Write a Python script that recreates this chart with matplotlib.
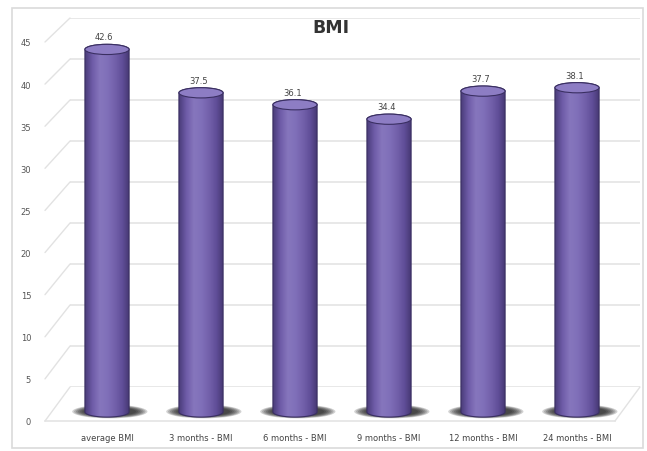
import numpy as np
import matplotlib
matplotlib.use("Agg")
import matplotlib.pyplot as plt
from matplotlib.patches import Ellipse, PathPatch, Rectangle, ConnectionPatch
from matplotlib.path import Path
from matplotlib.colors import LinearSegmentedColormap

categories = ["average BMI", "3 months - BMI", "6 months - BMI",
              "9 months - BMI", "12 months - BMI", "24 months - BMI"]
values = [42.6, 37.5, 36.1, 34.4, 37.7, 38.1]
value_labels = ["42.6", "37.5", "36.1", "34.4", "37.7", "38.1"]
y_ticks = [0, 5, 10, 15, 20, 25, 30, 35, 40, 45]
title = "BMI"

W, H = 647, 452
fig = plt.figure(figsize=(W / 100, H / 100), dpi=100)
fig.patch.set_facecolor("white")


def ax_at(x0, y0, x1, y1, **kw):
    return fig.add_axes([x0 / W, 1 - y1 / H, (x1 - x0) / W, (y1 - y0) / H], **kw)


# frame
bg = ax_at(0, 0, W, H)
bg.set_xlim(0, W)
bg.set_ylim(H, 0)
bg.axis("off")
bg.add_patch(Rectangle((12, 9), 631, 440, fill=False, edgecolor="#dadada", lw=1.2))

grid_c = "#e2e2e2"
# back wall
ax_back = ax_at(70, 19, 640, 388)
ax_back.set_xlim(0, 1)
ax_back.set_ylim(0, 45)
ax_back.axis("off")
for t in y_ticks:
    ax_back.axhline(t, color=grid_c, lw=1.1)

# front axis with tick labels
ax_front = ax_at(45, 43, 615, 422)
ax_front.set_xlim(0, 1)
ax_front.set_ylim(0, 45)
ax_front.patch.set_alpha(0)
for s in ax_front.spines.values():
    s.set_visible(False)
ax_front.set_xticks([])
ax_front.set_yticks(y_ticks)
ax_front.set_yticklabels([str(t) for t in y_ticks], fontsize=6, color="#555555")
ax_front.tick_params(axis="y", length=0, pad=10)
ax_front.plot([0, 1], [0, 0], color=grid_c, lw=1.1, clip_on=False)
for t in y_ticks:
    fig.add_artist(ConnectionPatch((0, t), (0, t), "data", "data",
                                   axesA=ax_front, axesB=ax_back,
                                   color=grid_c, lw=1.0))
fig.add_artist(ConnectionPatch((1, 0), (1, 0), "data", "data",
                               axesA=ax_front, axesB=ax_back,
                               color=grid_c, lw=1.0))

# bars
ax = ax_at(60, 30, 624, 422)
ax.patch.set_alpha(0)
for s in ax.spines.values():
    s.set_visible(False)
xlim = (-0.5, len(values) - 0.5)
ylim = (-1.06, 45)

cmap = LinearSegmentedColormap.from_list(
    "cyl", ["#4a3c7a", "#6f5ca8", "#8676bd", "#8070b9", "#7361ab", "#604e98", "#43366f"])
grad = np.linspace(0, 1, 256)[None, :]

w = 0.47
eh = 0.6
theta = np.linspace(np.pi, 2 * np.pi, 40)
for i, v in enumerate(values):
    x = i
    # shadow
    for k in range(7):
        ax.add_patch(Ellipse((x + 0.03, 0.05), 0.8 - k * 0.04, 1.6 - k * 0.1,
                             facecolor="#1a1a1a", alpha=0.2, lw=0, zorder=1))
    # body path
    bx = x + (w / 2) * np.cos(theta)
    by = eh * np.sin(theta)
    top_t = np.linspace(0, np.pi, 40)
    tx = x + (w / 2) * np.cos(top_t)
    ty = v + eh * np.sin(top_t)
    verts = np.column_stack([np.concatenate([bx, tx]), np.concatenate([by, ty])])
    verts = np.vstack([verts, verts[:1]])
    codes = [Path.MOVETO] + [Path.LINETO] * (len(verts) - 2) + [Path.CLOSEPOLY]
    path = Path(verts, codes)
    body = PathPatch(path, facecolor="none", edgecolor="none", zorder=2)
    ax.add_patch(body)
    im = ax.imshow(grad, extent=[x - w / 2, x + w / 2, -eh, v + eh], aspect="auto",
                   cmap=cmap, zorder=2, interpolation="bilinear")
    im.set_clip_path(body)
    ax.add_patch(PathPatch(path, facecolor="none", edgecolor="#3a2f62", lw=0.8, zorder=3))
    ax.add_patch(Ellipse((x, v), w, 2 * eh, facecolor="#8d7dc4",
                         edgecolor="#3a2f62", lw=0.8, zorder=4))
    ax.text(x - 0.03, v + eh + 0.35, value_labels[i], ha="center", va="bottom",
            fontsize=6, color="#444444", zorder=5)

ax.set_xlim(*xlim)
ax.set_ylim(*ylim)
ax.set_yticks([])
ax.set_xticks(range(len(categories)))
ax.set_xticklabels(categories, fontsize=6, color="#444444")
ax.tick_params(axis="x", length=0, pad=9)

fig.text(331 / W, 1 - 28 / H, title, ha="center", va="center",
         fontsize=12.5, fontweight="bold", color="#333333")

fig.savefig("out.png", dpi=100)
